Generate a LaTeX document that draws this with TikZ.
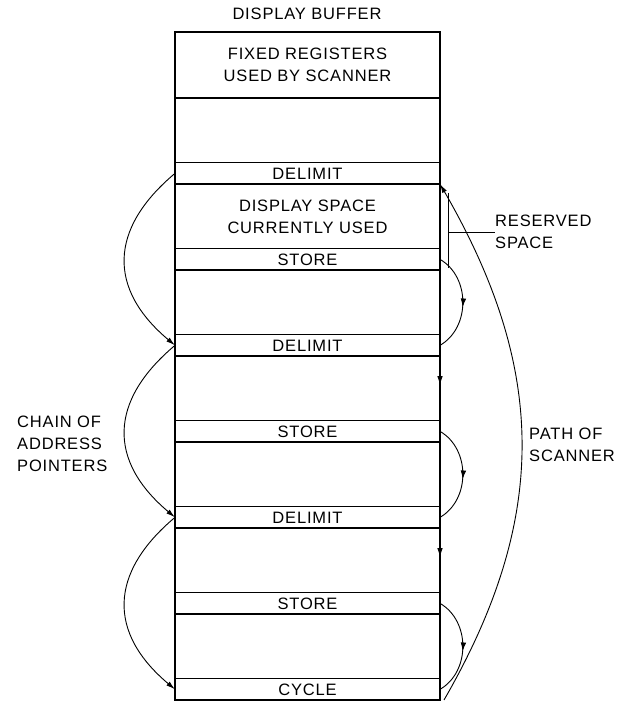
\documentclass[tikz,border=0pt]{standalone}
\usepackage{fontspec}
\setmainfont{Liberation Sans}[LetterSpace=5]
\usetikzlibrary{positioning,arrows.meta,decorations.markings}
\tikzset{
  cell/.style={draw, line width=1.2pt, minimum width=265pt, inner sep=0pt, outer sep=0pt, align=center},
  tallcell/.style={cell, minimum height=64.7pt},
  shortcell/.style={cell, minimum height=21.3pt},
  ptr/.style={line width=0.9pt, -{Latex[length=9pt,width=5pt]}},
  midarrow/.style={line width=0.9pt, postaction={decorate},
    decoration={markings, mark=at position #1 with {\arrow{Latex[length=9pt,width=5.5pt]}}}},
  midarrow/.default=0.55,
  lbl/.style={align=left, anchor=west, inner sep=0pt}
}
\begin{document}
\begin{tikzpicture}[x=1pt, y=1pt, font=\fontsize{16.5}{22}\selectfont]
  \useasboundingbox (0,0) rectangle (623,702);
  \node (title) at (307,688) {DISPLAY BUFFER};
  % the buffer, top to bottom
  \node[cell, minimum height=66pt] (fixed) at (307.5,637) {FIXED REGISTERS\\USED BY SCANNER};
  \node[tallcell, below=0pt of fixed] (free1) {};
  \node[shortcell, below=0pt of free1] (delim1) {DELIMIT};
  \node[tallcell, below=0pt of delim1] (used) {DISPLAY SPACE\\CURRENTLY USED};
  \node[shortcell, below=0pt of used] (store1) {STORE};
  \node[tallcell, below=0pt of store1] (free2) {};
  \node[shortcell, below=0pt of free2] (delim2) {DELIMIT};
  \node[tallcell, below=0pt of delim2] (free3) {};
  \node[shortcell, below=0pt of free3] (store2) {STORE};
  \node[tallcell, below=0pt of store2] (free4) {};
  \node[shortcell, below=0pt of free4] (delim3) {DELIMIT};
  \node[tallcell, below=0pt of delim3] (free5) {};
  \node[shortcell, below=0pt of free5] (store3) {STORE};
  \node[tallcell, below=0pt of store3] (free6) {};
  \node[shortcell, below=0pt of free6] (cycle) {CYCLE};
  % labels
  \node[lbl] (chain) at (17,258) {CHAIN OF\\ADDRESS\\POINTERS};
  \node[lbl] (scanpath) at (529,257) {PATH OF\\SCANNER};
  \node[lbl] (reserved) at (495,470) {RESERVED\\SPACE};
  % chain of address pointers
  \draw[ptr] (delim1.west) to[out=220, in=140, looseness=1.3] (delim2.west);
  \draw[ptr] (delim2.west) to[out=220, in=140, looseness=1.3] (delim3.west);
  \draw[ptr] (delim3.west) to[out=220, in=140, looseness=1.3] (cycle.west);
  % path of scanner
  \draw[midarrow] (store1.east) to[out=-30, in=30, looseness=1.05] (delim2.east);
  \draw[midarrow=0.45] (delim2.south east) -- (store2.north east);
  \draw[midarrow] (store2.east) to[out=-30, in=30, looseness=1.05] (delim3.east);
  \draw[midarrow=0.45] (delim3.south east) -- (store3.north east);
  \draw[midarrow] (store3.east) to[out=-30, in=30, looseness=1.05] (cycle.east);
  \draw[ptr] ([xshift=4pt]cycle.south east) to[out=60, in=-60, looseness=1.05] (used.north east);
  % reserved space
  \coordinate (rtop) at ([xshift=8pt, yshift=-9pt]used.north east);
  \coordinate (rbot) at ([xshift=8pt, yshift=2pt]store1.south east);
  \draw[line width=0.9pt] (rtop) -- (rbot);
  \draw[line width=0.9pt] (rtop |- reserved.west) -- (reserved.west);
\end{tikzpicture}
\end{document}
